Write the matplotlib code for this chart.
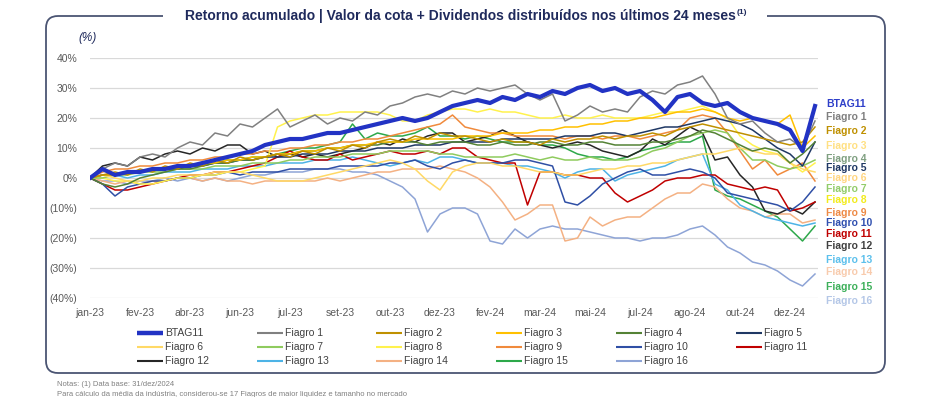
import matplotlib
matplotlib.use("Agg")
import matplotlib.pyplot as plt
from matplotlib.patches import FancyBboxPatch, Rectangle

plt.rcParams['font.family'] = ['Liberation Sans', 'DejaVu Sans']

# Data (cumulative return, %), one value every ~7 trading days, jan-23 .. dez-24
series_names = ["BTAG11", "Fiagro 1", "Fiagro 2", "Fiagro 3", "Fiagro 4", "Fiagro 5",
                "Fiagro 6", "Fiagro 7", "Fiagro 8", "Fiagro 9", "Fiagro 10", "Fiagro 11",
                "Fiagro 12", "Fiagro 13", "Fiagro 14", "Fiagro 15", "Fiagro 16"]

btag11 = [0, 3, 1, 2, 2, 3, 3, 4, 4, 5, 6, 7, 8, 9, 11, 12, 13, 13, 14, 15,
          15, 16, 17, 18, 19, 20, 19, 20, 22, 24, 25, 26, 25, 27, 26, 28, 27, 29, 28, 30,
          31, 29, 30, 28, 29, 26, 22, 27, 28, 25, 24, 25, 22, 20, 19, 18, 16, 9, 24]
fiagro1 = [0, 3, 5, 4, 7, 8, 7, 10, 12, 11, 15, 14, 18, 17, 20, 23, 17, 19, 21, 18,
           20, 19, 22, 21, 24, 25, 27, 28, 27, 29, 28, 30, 29, 30, 31, 28, 26, 28, 19, 21,
           24, 22, 23, 22, 27, 29, 28, 31, 32, 34, 28, 20, 18, 19, 15, 12, 13, 10, 19]
fiagro2 = [0, 1, 2, 1, 3, 2, 4, 3, 5, 4, 6, 5, 7, 6, 7, 8, 7, 9, 8, 10,
           9, 11, 10, 12, 13, 12, 14, 13, 15, 14, 14, 13, 12, 13, 12, 12, 11, 13, 12, 13,
           13, 14, 13, 14, 14, 15, 14, 16, 17, 18, 17, 16, 15, 14, 13, 12, 11, 12, 17]
fiagro3 = [0, 1, 1, 2, 2, 3, 3, 4, 4, 5, 5, 6, 6, 7, 7, 8, 8, 9, 9, 10,
           10, 11, 11, 12, 12, 12, 13, 13, 13, 13, 14, 14, 14, 15, 15, 15, 16, 16, 17, 17,
           18, 18, 19, 19, 20, 20, 21, 22, 22, 23, 22, 20, 19, 20, 19, 18, 21, 10, 14]
fiagro4 = [0, -2, -3, -2, 0, 1, 2, 3, 3, 4, 5, 5, 6, 6, 7, 8, 8, 9, 9, 10,
           10, 11, 11, 11, 12, 12, 12, 11, 12, 12, 12, 11, 11, 12, 11, 11, 12, 12, 11, 11,
           12, 12, 11, 11, 11, 12, 12, 13, 14, 16, 15, 13, 11, 9, 10, 9, 5, 8, 12]
fiagro5 = [0, 1, 1, 2, 2, 3, 3, 3, 4, 4, 5, 5, 6, 6, 7, 7, 7, 8, 8, 8,
           9, 9, 9, 10, 10, 10, 11, 11, 11, 12, 12, 12, 12, 13, 13, 13, 13, 13, 14, 14,
           14, 15, 15, 14, 15, 16, 17, 17, 18, 19, 20, 19, 18, 16, 13, 10, 8, 4, 12]
fiagro6 = [0, 1, 0, -1, -1, 0, 0, 1, 1, 1, 2, 2, 2, 1, 0, -1, -1, -1, 0, 1,
           2, 3, 4, 5, 6, 5, 3, -1, -4, 2, 4, 5, 5, 4, 4, 3, 2, 2, 1, 1,
           2, 3, 3, 4, 4, 5, 5, 6, 7, 8, 8, 9, 10, 9, 8, 8, 5, 3, 2]
fiagro7 = [0, 0, 1, 1, 2, 2, 2, 3, 3, 3, 4, 4, 4, 5, 5, 5, 6, 6, 7, 7,
           7, 8, 8, 8, 9, 9, 9, 9, 8, 8, 7, 7, 7, 7, 8, 7, 6, 7, 6, 6,
           7, 6, 6, 6, 7, 9, 10, 12, 14, 15, 16, 15, 10, 6, 6, 4, 3, 4, 6]
fiagro8 = [0, 0, -1, -1, -2, -2, -1, 0, 0, 1, 1, 2, 2, 3, 4, 17, 19, 20, 21, 21,
           22, 22, 22, 22, 21, 19, 19, 21, 22, 23, 23, 22, 23, 22, 22, 21, 20, 20, 21, 20,
           20, 21, 20, 20, 20, 21, 22, 22, 23, 24, 22, 20, 14, 11, 9, 8, 5, 2, 5]
fiagro9 = [0, 2, 3, 3, 4, 4, 5, 5, 6, 6, 7, 7, 8, 8, 9, 9, 10, 10, 11, 11,
           12, 12, 13, 13, 14, 15, 16, 17, 18, 21, 17, 16, 15, 15, 14, 14, 14, 14, 13, 14,
           14, 13, 14, 14, 13, 14, 15, 16, 20, 21, 20, 15, 9, 3, 6, 1, 3, 5, -1]
fiagro10 = [0, -2, -6, -3, -2, -1, -1, 0, 0, 1, 1, 2, 1, 2, 2, 2, 3, 3, 3, 3,
            4, 4, 4, 4, 5, 5, 6, 4, 3, 5, 6, 5, 5, 5, 6, 6, 5, 4, -8, -9,
            -6, -2, 0, 2, 3, 1, 1, 2, 3, 2, 0, -5, -6, -7, -8, -9, -11, -8, -3]
fiagro11 = [0, -2, -4, -4, -3, -2, -1, 0, 1, 1, 2, 2, 3, 4, 5, 7, 9, 7, 6, 6,
            8, 6, 7, 8, 9, 8, 8, 9, 8, 10, 10, 7, 6, 5, 5, -9, 2, 2, 1, 1,
            0, 0, -5, -8, -6, -4, -1, 0, 0, 1, 1, -2, -3, -4, -3, -4, -11, -10, -8]
fiagro12 = [0, 4, 5, 4, 7, 6, 8, 9, 8, 10, 9, 11, 11, 8, 9, 7, 8, 7, 8, 7,
            8, 9, 10, 12, 11, 13, 12, 14, 15, 15, 12, 13, 14, 16, 14, 12, 11, 10, 11, 12,
            11, 9, 8, 7, 9, 13, 11, 14, 17, 15, 6, 7, 1, -3, -11, -12, -10, -12, -8]
fiagro13 = [0, 1, 1, 0, 1, 1, 2, 2, 2, 3, 3, 3, 4, 4, 4, 5, 5, 5, 6, 6,
            6, 7, 6, 5, 4, 5, 6, 5, 7, 7, 6, 5, 5, 5, 4, 4, 3, 2, 0, 2,
            3, 3, -1, 1, 2, 3, 4, 6, 7, 8, -2, -4, -9, -11, -13, -14, -15, -16, -15]
fiagro14 = [0, -1, -2, -1, -2, -1, -1, 0, 0, -1, 0, -1, -1, -2, -1, -1, -1, -1, -1, 0,
            -1, 0, 1, 2, 2, 3, 3, 3, 4, 3, 2, 0, -3, -8, -14, -12, -9, -9, -21, -20,
            -13, -16, -14, -13, -13, -10, -7, -5, -5, -2, -3, -7, -10, -11, -13, -12, -12, -15, -14]
fiagro15 = [0, 1, 1, 2, 2, 3, 3, 4, 4, 5, 5, 6, 6, 7, 7, 8, 9, 10, 10, 11,
            12, 18, 13, 15, 14, 14, 15, 17, 14, 14, 13, 14, 13, 12, 12, 12, 11, 11, 10, 8,
            7, 7, 6, 7, 9, 10, 11, 12, 12, 14, -4, -6, -7, -9, -11, -13, -17, -21, -16]
fiagro16 = [0, -1, -1, -2, -1, -1, 0, -1, 0, -1, 0, -1, 0, 1, 1, 2, 2, 2, 3, 3,
            3, 2, 2, 1, -1, -3, -7, -18, -12, -10, -10, -12, -21, -22, -17, -20, -17, -16, -17, -17,
            -18, -19, -20, -20, -21, -20, -20, -19, -17, -16, -19, -23, -25, -28, -29, -31, -34, -36, -32]

month_labels = ["jan-23", "fev-23", "abr-23", "jun-23", "jul-23", "set-23", "out-23", "dez-23",
                "fev-24", "mar-24", "mai-24", "jul-24", "ago-24", "out-24", "dez-24"]

# right-hand label heights (% axis units)
label_y = [24.7, 20.3, 15.7, 10.7, 6.3, 3.3, 0.0, -3.7, -7.3, -11.7, -15.0,
           -18.7, -22.7, -27.3, -31.3, -36.3, -41.0]

line_colors = ['#2233C4', '#808080', '#BF9000', '#FFC000', '#548235', '#1F3864',
               '#FFD966', '#8FCB5E', '#FFF24D', '#F08A3C', '#2F4FA5', '#C00000',
               '#262626', '#4DB3E6', '#F4B183', '#2DA84A', '#8EA4D6']
label_colors = ['#2E3FC9', '#7F7F7F', '#BF9000', '#FFE082', '#7F9F80', '#1F3864',
                '#FFD580', '#92CC6A', '#F2EC1C', '#EE8A45', '#3050B0', '#C00000',
                '#404040', '#5CC0EC', '#F8CBAD', '#3DB05A', '#B4C7E7']

all_series = [btag11, fiagro1, fiagro2, fiagro3, fiagro4, fiagro5, fiagro6, fiagro7,
              fiagro8, fiagro9, fiagro10, fiagro11, fiagro12, fiagro13, fiagro14,
              fiagro15, fiagro16]

W, H = 930, 397
NAVY = '#1F2A5C'

fig = plt.figure(figsize=(W / 100, H / 100), dpi=100)

# overlay in pixel units for frame, title, legend, notes
ov = fig.add_axes([0, 0, 1, 1], zorder=0)
ov.set_xlim(0, W)
ov.set_ylim(H, 0)
ov.axis('off')

frame = FancyBboxPatch((46, 16), 839, 357, boxstyle="round,pad=0,rounding_size=12",
                       fill=False, edgecolor='#4B5573', linewidth=1.3)
ov.add_patch(frame)
ov.add_patch(Rectangle((163, 10), 604, 12, facecolor='white', edgecolor='none', zorder=3))

title = ov.text(460, 16, "Retorno acumulado | Valor da cota + Dividendos distribuídos nos últimos 24 meses",
                ha='center', va='center', fontsize=10, fontweight='bold', color=NAVY, zorder=4)
ov.text(88, 38, "(%)", ha='center', va='center', fontsize=8.5, style='italic', color=NAVY)

# manual legend, row-major, 6 columns
for idx, (name, c) in enumerate(zip(series_names, line_colors)):
    row, col = divmod(idx, 6)
    x0 = 137 + col * 119.7
    y = 333 + row * 14
    ov.plot([x0, x0 + 26], [y, y], color=c, lw=3.2 if idx == 0 else 1.5,
            solid_capstyle='butt')
    ov.text(x0 + 28, y, name, ha='left', va='center', fontsize=7.5, color='#404040')

ov.text(57, 384, "Notas: (1) Data base: 31/dez/2024", fontsize=5.5, color='#808080', va='center')
ov.text(57, 394, "Para cálculo da média da indústria, considerou-se 17 Fiagros de maior liquidez e tamanho no mercado",
        fontsize=5.5, color='#808080', va='center')

# main chart
ax = fig.add_axes([90 / W, 99 / H, 728 / W, 240 / H], zorder=1)
ax.set_facecolor('none')

x = list(range(len(btag11)))
for name, vals, c in reversed(list(zip(series_names, all_series, line_colors))):
    if name == "BTAG11":
        continue
    ax.plot(x, vals, color=c, lw=1.1, zorder=2)
ax.plot(x, btag11, color=line_colors[0], lw=3.0, zorder=3)

for name, y, c in zip(series_names, label_y, label_colors):
    ax.text(58.9, y, name, color=c, fontsize=7.5, fontweight='bold', va='center',
            ha='left', clip_on=False)

ax.set_xlim(0, 58.24)
ax.set_ylim(-40, 40)
ax.set_xticks(range(0, 57, 4))
ax.set_xticklabels(month_labels)
yt = list(range(-40, 41, 10))
ax.set_yticks(yt)
ax.set_yticklabels([f"{v}%" if v >= 0 else f"({-v}%)" for v in yt])
ax.tick_params(length=0, labelsize=7.5, labelcolor='#595959')
ax.tick_params(axis='y', pad=9)
ax.tick_params(axis='x', pad=7)
ax.yaxis.grid(True, color='#D9D9D9', lw=0.9)
ax.set_axisbelow(True)
for s in ax.spines.values():
    s.set_visible(False)

# superscript after the title
fig.canvas.draw()
bb = title.get_window_extent()
x_end, _ = ov.transData.inverted().transform((bb.x1, bb.y1))
ov.text(x_end + 1, 13, "(1)", ha='left', va='center', fontsize=6, fontweight='bold',
        color=NAVY, zorder=4)

fig.savefig("out.png", dpi=100)
